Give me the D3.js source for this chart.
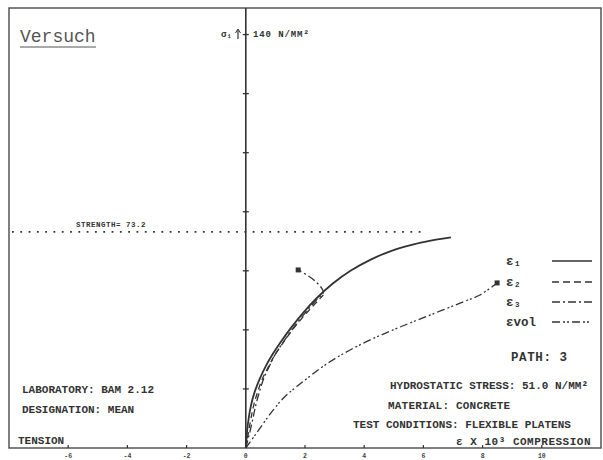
<!DOCTYPE html>
<html><head><meta charset="utf-8">
<script src="https://cdn.jsdelivr.net/npm/d3@7"></script>
<style>body{margin:0;background:#fff}svg{display:block}</style>
</head><body>
<script>
// ---- data ----
const xTicks = [-6, -4, -2, 0, 2, 4, 6, 8, 10];
const yTicks = [20, 40, 60, 80, 100, 120, 140];
const eps1X = [0, 0.07, 0.17, 0.3, 0.47, 0.68, 0.91, 1.18, 1.52, 1.93, 2.4, 2.94, 3.55, 4.22, 4.9, 5.57, 6.25, 6.93];
const eps1Y = [0, 8.1, 14.2, 19, 23.4, 27.8, 31.8, 35.9, 40.6, 45.7, 50.8, 55.7, 60.1, 63.8, 66.7, 68.7, 70.2, 71.3];
const eps2X = [0, 0.14, 0.26, 0.4, 0.56, 0.78, 1.0, 1.28, 1.62, 2.05, 2.45, 2.62];
const eps2Y = [0, 8.1, 14.2, 19, 23.4, 27.8, 31.8, 35.9, 40.6, 45.7, 50.0, 51.8];
const eps3X = [0, 0.2, 0.33, 0.46, 0.6, 0.8, 1.0, 1.27, 1.6, 2.0, 2.42, 2.62, 2.3, 1.77];
const eps3Y = [0, 8.1, 14.2, 19, 23.4, 27.8, 31.8, 35.9, 40.6, 45.7, 50.5, 52.8, 56.9, 60.3];
const volX = [0, 0.3, 0.93, 1.3, 1.72, 2.84, 3.97, 5.10, 6.22, 7.35, 7.91, 8.49];
const volY = [0, 4.2, 12.9, 17.2, 20.8, 29.2, 35.5, 40.5, 45.0, 49.5, 51.8, 55.9];
const strength = 73.2;
const legendLabels = ["ε₁", "ε₂", "ε₃", "εvol"];
const legendDash = ["none", "7,4", "8,3,2,3", "8,3,2,2,2,3"];
const seriesDash = ["none", "6,4", "8,3,2,3", "8,3,2,2,2,3"];

const W = 603, H = 460;
const ink = "#333";
const svg = d3.select("body").append("svg").attr("width", W).attr("height", H);

const x = d3.scaleLinear().domain([-8, 12]).range([9, 601]);
const y = d3.scaleLinear().domain([0, 149]).range([448, 8]);
const mono = "'Liberation Mono','DejaVu Sans Mono',monospace";

// frame
svg.append("rect").attr("x", 9).attr("y", 8).attr("width", 592).attr("height", 440)
  .attr("fill", "none").attr("stroke", "#555").attr("stroke-width", 1.5);

// y axis line
svg.append("line").attr("x1", x(0)).attr("x2", x(0)).attr("y1", y(149)).attr("y2", y(0))
  .attr("stroke", ink).attr("stroke-width", 1.6);
svg.append("g").selectAll("line").data(yTicks).join("line")
  .attr("x1", x(0) - 3).attr("x2", x(0) + 3).attr("y1", d => y(d)).attr("y2", d => y(d))
  .attr("stroke", ink).attr("stroke-width", 1.3);

// x ticks + labels
svg.append("g").selectAll("line").data(xTicks).join("line")
  .attr("x1", d => x(d)).attr("x2", d => x(d)).attr("y1", y(0)).attr("y2", y(0) - 3)
  .attr("stroke", ink).attr("stroke-width", 1.2);
svg.append("g").selectAll("text").data(xTicks).join("text")
  .attr("x", d => x(d)).attr("y", 458).attr("text-anchor", "middle")
  .attr("font-family", mono).attr("font-weight", "bold").attr("font-size", 6.5).attr("fill", "#444")
  .text(d => d);

// y top label
svg.append("text").attr("x", 221).attr("y", 37).attr("font-family", mono).attr("font-weight", "bold")
  .attr("font-size", 9).attr("fill", ink).text("σ₁");
svg.append("line").attr("x1", 238).attr("x2", 238).attr("y1", 39).attr("y2", 30).attr("stroke", ink).attr("stroke-width", 1.2);
svg.append("path").attr("d", "M235.5,33 L238,29 L240.5,33").attr("fill", "none").attr("stroke", ink).attr("stroke-width", 1);
svg.append("text").attr("x", 253).attr("y", 37).attr("font-family", mono).attr("font-weight", "bold")
  .attr("font-size", 9).attr("letter-spacing", 0.9).attr("fill", ink).text("140 N/MM²");

// Versuch
svg.append("text").attr("x", 20).attr("y", 42).attr("font-family", mono).attr("font-size", 18)
  .attr("fill", "#555").text("Versuch");
svg.append("line").attr("x1", 20).attr("x2", 96).attr("y1", 47).attr("y2", 47).attr("stroke", "#555").attr("stroke-width", 1.2);

// strength
svg.append("line").attr("x1", 12).attr("x2", 424).attr("y1", y(strength)).attr("y2", y(strength))
  .attr("stroke", ink).attr("stroke-width", 1.8).attr("stroke-dasharray", "1.8,6.5");
svg.append("text").attr("x", 76).attr("y", y(strength) - 5).attr("font-family", mono).attr("font-weight", "bold")
  .attr("font-size", 7.5).attr("letter-spacing", 0.5).attr("fill", ink).text("STRENGTH= " + strength);

// curves
const line = d3.line().x(d => x(d[0])).y(d => y(d[1])).curve(d3.curveCatmullRom.alpha(0.5));
const series = [
  d3.zip(eps1X, eps1Y), d3.zip(eps2X, eps2Y), d3.zip(eps3X, eps3Y), d3.zip(volX, volY)
];
series.forEach((s, i) => {
  svg.append("path").attr("d", line(s)).attr("fill", "none").attr("stroke", ink)
    .attr("stroke-width", i === 0 ? 1.8 : 1.3).attr("stroke-dasharray", seriesDash[i]);
});
[[eps3X, eps3Y], [volX, volY]].forEach(([sx, sy]) => {
  const n = sx.length - 1;
  svg.append("rect").attr("x", x(sx[n]) - 2.5).attr("y", y(sy[n]) - 2.5).attr("width", 5).attr("height", 5).attr("fill", ink);
});

// legend
const legY = [261, 282, 302, 322];
legendLabels.forEach((l, i) => {
  svg.append("text").attr("x", 506).attr("y", legY[i] + 4).attr("font-family", mono).attr("font-weight", "bold")
    .attr("font-size", 12.5).attr("fill", ink).text(l);
  svg.append("line").attr("x1", 552).attr("x2", 592).attr("y1", legY[i]).attr("y2", legY[i])
    .attr("stroke", ink).attr("stroke-width", 1.4).attr("stroke-dasharray", legendDash[i]);
});
svg.append("text").attr("x", 511).attr("y", 361).attr("font-family", mono).attr("font-weight", "bold")
  .attr("font-size", 12.5).attr("letter-spacing", 0.6).attr("fill", ink).text("PATH: 3");

// info texts
function t(txt, xx, yy, anchor, ls) {
  svg.append("text").attr("x", xx).attr("y", yy).attr("text-anchor", anchor || "start")
    .attr("font-family", mono).attr("font-weight", "bold").attr("font-size", 11)
    .attr("letter-spacing", ls || 0).attr("fill", ink).text(txt);
}
t("LABORATORY: BAM 2.12", 22, 393);
t("DESIGNATION: MEAN", 22, 413);
t("TENSION", 18, 444);
t("HYDROSTATIC STRESS: 51.0 N/MM²", 588, 389, "end");
t("MATERIAL: CONCRETE", 388, 409, "start", 0.2);
t("TEST CONDITIONS: FLEXIBLE PLATENS", 353, 428);
t("ε X 10³  COMPRESSION", 591, 445, "end", 0.5);
</script>
</body></html>
